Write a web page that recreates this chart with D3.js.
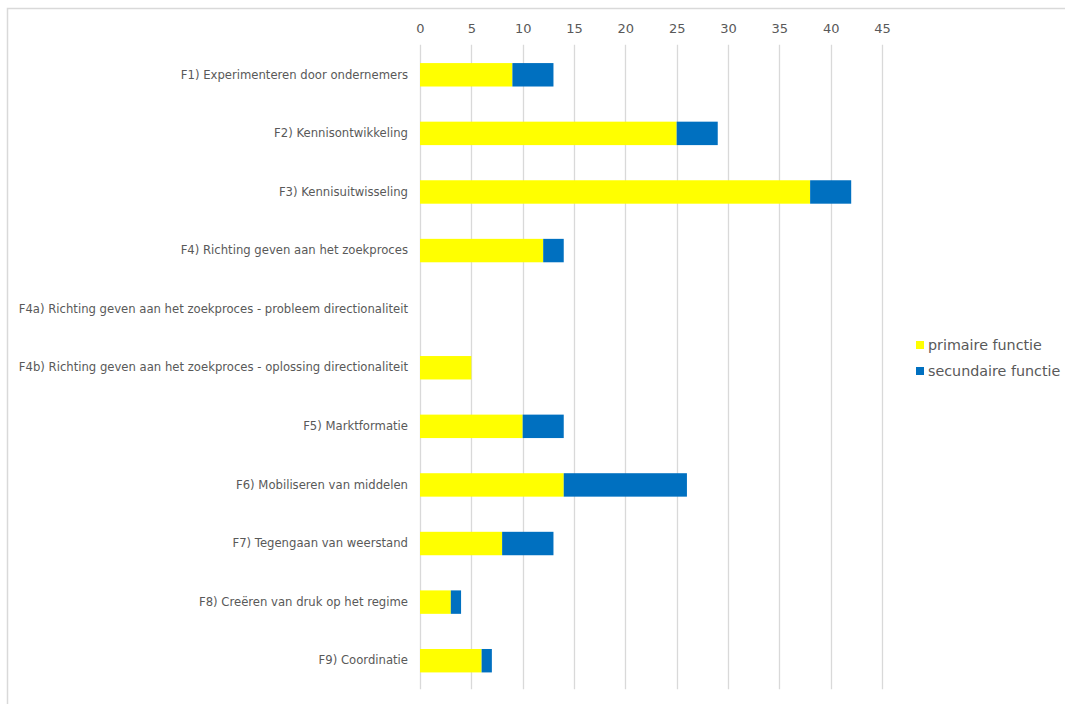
<!DOCTYPE html>
<html>
<head>
<meta charset="utf-8">
<script src="https://cdn.jsdelivr.net/npm/d3@7"></script>
<style>
  html, body { margin: 0; padding: 0; background: #fff; }
  svg { display: block; }
  text { font-family: "DejaVu Sans", Verdana, sans-serif; fill: #595959; }
</style>
</head>
<body>
<svg id="chart" width="1065" height="704"></svg>
<script>
const categories = [
  "F1) Experimenteren door ondernemers",
  "F2) Kennisontwikkeling",
  "F3) Kennisuitwisseling",
  "F4) Richting geven aan het zoekproces",
  "F4a) Richting geven aan het zoekproces - probleem directionaliteit",
  "F4b) Richting geven aan het zoekproces - oplossing directionaliteit",
  "F5) Marktformatie",
  "F6) Mobiliseren van middelen",
  "F7) Tegengaan van weerstand",
  "F8) Creëren van druk op het regime",
  "F9) Coordinatie"
];
const primaire = [9, 25, 38, 12, 0, 5, 10, 14, 8, 3, 6];
const secundaire = [4, 4, 4, 2, 0, 0, 4, 12, 5, 1, 1];
const seriesNames = ["primaire functie", "secundaire functie"];
const seriesColors = ["#FFFF00", "#0070C0"];
const tickValues = [0, 5, 10, 15, 20, 25, 30, 35, 40, 45];

const svg = d3.select("#chart");

// outer chart frame
svg.append("path")
  .attr("d", "M7.5,704 L7.5,8.5 L1066,8.5")
  .attr("fill", "none")
  .attr("stroke", "#d9d9d9")
  .attr("stroke-width", 1.5);

const x = d3.scaleLinear().domain([0, 45]).range([420, 882]);
const y = d3.scaleBand().domain(categories).range([45.5, 690]).paddingInner(0.6).paddingOuter(0.3);

// gridlines
svg.append("g").selectAll("line")
  .data(tickValues)
  .join("line")
  .attr("x1", d => Math.round(x(d)) + 0.5)
  .attr("x2", d => Math.round(x(d)) + 0.5)
  .attr("y1", 44.7)
  .attr("y2", 689.3)
  .attr("stroke", "#d9d9d9")
  .attr("stroke-width", 1.3);

// top axis labels
const xAxis = d3.axisTop(x).tickValues(tickValues).tickSize(0).tickPadding(0);
const gx = svg.append("g").attr("transform", "translate(0,33)").call(xAxis);
gx.select(".domain").remove();
gx.selectAll("text")
  .attr("font-size", 13)
  .attr("font-family", "DejaVu Sans, Verdana, sans-serif")
  .attr("fill", "#595959");

// category labels
const yAxis = d3.axisLeft(y).tickSize(0).tickPadding(12);
const gy = svg.append("g").attr("transform", "translate(420,0)").call(yAxis);
gy.select(".domain").remove();
gy.selectAll("text")
  .attr("font-size", 11.65)
  .attr("font-family", "DejaVu Sans, Verdana, sans-serif")
  .attr("fill", "#595959");

// stacked data
const rows = categories.map((c, i) => ({ cat: c, p: primaire[i], s: secundaire[i] }));
const stack = d3.stack().keys(["p", "s"])(rows);

svg.append("g").selectAll("g")
  .data(stack)
  .join("g")
  .attr("fill", (d, i) => seriesColors[i])
  .selectAll("rect")
  .data(d => d)
  .join("rect")
  .attr("x", d => x(d[0]))
  .attr("y", d => y(d.data.cat))
  .attr("width", d => Math.max(0, x(d[1]) - x(d[0])))
  .attr("height", y.bandwidth());

// legend
const legend = svg.append("g").attr("transform", "translate(916,345)");
seriesNames.forEach((n, i) => {
  const g = legend.append("g").attr("transform", `translate(0,${i * 26})`);
  g.append("rect").attr("x", 0).attr("y", -4).attr("width", 8).attr("height", 8).attr("fill", seriesColors[i]);
  g.append("text").attr("x", 12).attr("y", 0).attr("dy", "0.35em")
    .attr("font-size", 14.3).text(n);
});
</script>
</body>
</html>
